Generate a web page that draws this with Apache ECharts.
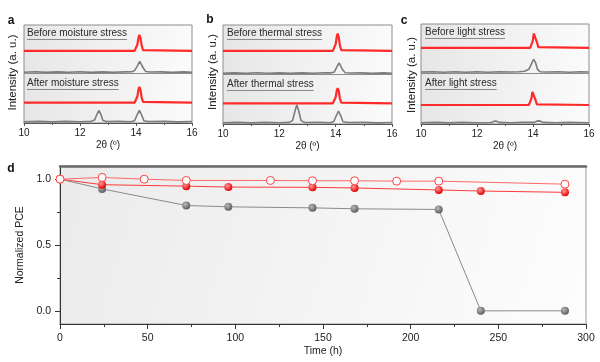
<!DOCTYPE html>
<html>
<head>
<meta charset="utf-8">
<script src="https://cdn.jsdelivr.net/npm/echarts@6/dist/echarts.min.js"></script>
<style>
html,body{margin:0;padding:0;background:#fff;}
#c{width:600px;height:362px;}
</style>
</head>
<body>
<div id="c"></div>
<script>
// ---------------- DATA ----------------
// XRD traces: [2θ (deg), intensity (arb. units)]
const xrdA_beforeRed = [[10,0],[13.95,0],[14.0,0.06],[14.05,0.4],[14.09,0.85],[14.12,1.0],[14.16,0.82],[14.2,0.35],[14.25,0.05],[14.3,0],[16,0]];
const xrdA_beforeGrey = [[10,0.02],[10.4,0.05],[10.8,0.01],[11.2,0.04],[11.6,0.02],[12,0.05],[12.4,0.01],[12.8,0.04],[13.2,0.02],[13.6,0.04],[13.85,0.05],[13.95,0.12],[14.05,0.42],[14.13,0.7],[14.2,0.6],[14.27,0.25],[14.35,0.06],[14.5,0.03],[14.9,0.04],[15.3,0.01],[15.7,0.04],[16,0.02]];
const xrdA_afterRed = [[10,0],[13.95,0],[14.0,0.06],[14.05,0.4],[14.09,0.85],[14.12,0.98],[14.16,0.8],[14.2,0.33],[14.25,0.05],[14.3,0],[16,0]];
const xrdA_afterGrey = [[10,0.02],[10.5,0.04],[11,0.01],[11.5,0.04],[12,0.02],[12.4,0.04],[12.52,0.12],[12.6,0.45],[12.67,0.72],[12.74,0.5],[12.82,0.1],[12.95,0.03],[13.4,0.04],[13.8,0.02],[13.95,0.08],[14.04,0.45],[14.12,0.72],[14.2,0.45],[14.28,0.08],[14.45,0.03],[15,0.04],[15.5,0.01],[16,0.03]];

const xrdB_beforeRed = [[10,0],[13.9,0],[13.95,0.06],[14.0,0.42],[14.04,0.9],[14.07,1.08],[14.11,0.85],[14.15,0.35],[14.2,0.05],[14.25,0],[16,0]];
const xrdB_beforeGrey = [[10,0.02],[10.4,0.04],[10.8,0.01],[11.2,0.05],[11.6,0.02],[12,0.04],[12.4,0.01],[12.8,0.04],[13.2,0.02],[13.6,0.05],[13.85,0.04],[13.95,0.1],[14.04,0.4],[14.12,0.66],[14.19,0.55],[14.26,0.2],[14.34,0.05],[14.5,0.03],[14.9,0.04],[15.3,0.01],[15.7,0.04],[16,0.02]];
const xrdB_afterRed = [[10,0],[13.9,0],[13.95,0.05],[14.0,0.38],[14.04,0.8],[14.07,0.94],[14.11,0.78],[14.15,0.3],[14.2,0.04],[14.25,0],[16,0]];
const xrdB_afterGrey = [[10,0.02],[10.5,0.04],[11,0.01],[11.5,0.04],[12,0.02],[12.35,0.04],[12.47,0.15],[12.55,0.7],[12.62,1.14],[12.69,0.75],[12.77,0.15],[12.9,0.03],[13.4,0.04],[13.8,0.02],[13.93,0.08],[14.02,0.45],[14.1,0.75],[14.18,0.45],[14.26,0.08],[14.45,0.03],[15,0.04],[15.5,0.01],[16,0.03]];

const xrdC_beforeRed = [[10,0],[13.9,0],[13.95,0.06],[13.99,0.42],[14.03,0.9],[14.06,1.02],[14.1,0.85],[14.14,0.35],[14.19,0.05],[14.25,0],[16,0]];
const xrdC_beforeGrey = [[10,0.03],[10.4,0.05],[10.8,0.02],[11.2,0.05],[11.6,0.02],[12,0.05],[12.4,0.02],[12.8,0.05],[13.2,0.03],[13.5,0.05],[13.7,0.08],[13.85,0.2],[13.95,0.55],[14.02,0.83],[14.09,0.62],[14.16,0.2],[14.25,0.05],[14.5,0.03],[14.9,0.05],[15.3,0.02],[15.7,0.05],[16,0.03]];
const xrdC_afterRed = [[10,0],[13.85,0],[13.9,0.05],[13.94,0.38],[13.98,0.82],[14.01,0.94],[14.05,0.78],[14.09,0.3],[14.14,0.04],[14.2,0],[16,0]];
const xrdC_afterGrey = [[10,0.02],[10.5,0.04],[11,0.01],[11.5,0.04],[12,0.02],[12.5,0.03],[12.6,0.1],[12.68,0.13],[12.78,0.04],[13.2,0.02],[13.6,0.04],[14.05,0.04],[14.15,0.12],[14.25,0.13],[14.35,0.04],[14.8,0.02],[15.3,0.04],[16,0.02]];

// PCE stability
const timeOpen = [0,24,48,72,120,144,168,192,216,288];
const pceOpen  = [1.0,1.013,1.0,0.99,0.99,0.988,0.988,0.985,0.985,0.962];
const timeRed  = [0,24,72,96,144,168,216,240,288];
const pceRed   = [1.0,0.958,0.947,0.94,0.938,0.933,0.918,0.91,0.90];
const timeGrey = [0,24,72,96,144,168,216,240,288];
const pceGrey  = [1.0,0.926,0.80,0.79,0.782,0.775,0.77,0.0,0.0];

const xrdTicks = [10,12,14,16];
const pceYTicks = [0.0,0.5,1.0];
const pceXTicks = [0,50,100,150,200,250,300];

const panelLabels = ['a','b','c','d'];
const stressText = [
  ['Before moisture stress','After moisture stress'],
  ['Before thermal stress','After thermal stress'],
  ['Before light stress','After light stress']
];
const xrdNameX = '2θ (º)';
const xrdNameY = 'Intensity (a. u.)';
const pceNameX = 'Time (h)';
const pceNameY = 'Normalized PCE';

// ---------------- LAYOUT ----------------
const FONT = '"Liberation Sans", Arial, sans-serif';
const RED = '#ff2b2b';
const GREY = '#7c7c7c';
const PXU = 16; // px per intensity unit
const panels = [
  {left:24, width:168, top:25, mid:73.5, bottom:123, offT:22.6, offB:20.3, nameX:12.5, nameY:72.5, txtX:27},
  {left:223, width:169, top:25, mid:74.5, bottom:124, offT:23.6, offB:20.7, nameX:213, nameY:72, txtX:227},
  {left:421, width:168, top:24, mid:73.5, bottom:124, offT:25.6, offB:19, nameX:412, nameY:75, txtX:425}
];
const traces = [
  [xrdA_beforeRed, xrdA_beforeGrey, xrdA_afterRed, xrdA_afterGrey],
  [xrdB_beforeRed, xrdB_beforeGrey, xrdB_afterRed, xrdB_afterGrey],
  [xrdC_beforeRed, xrdC_beforeGrey, xrdC_afterRed, xrdC_afterGrey]
];

function bgGrad(x2, y2, c0, c1){
  return {type:'linear', x:0, y:0, x2:x2, y2:y2, colorStops:[{offset:0,color:c0},{offset:1,color:c1}]};
}

const grids=[], xAxes=[], yAxes=[], series=[], graphics=[];

const mctx = document.createElement('canvas').getContext('2d');
function textW(t, size){ mctx.font = size+'px "Liberation Sans", Arial'; return mctx.measureText(t).width; }

panels.forEach((p, pi) => {
  const subs = [
    {top:p.top, h:p.mid - p.top, off:p.offT, bottom:false},
    {top:p.mid, h:p.bottom - p.mid, off:p.offB, bottom:true}
  ];
  subs.forEach((s, si) => {
    const gi = grids.length;
    grids.push({left:p.left, top:s.top, width:p.width, height:s.h, show:true,
      backgroundColor: bgGrad(1,0.3,'#e6e6e6','#fbfbfb'), borderColor:'#8c8c8c', borderWidth:1});
    xAxes.push({type:'value', gridIndex:gi, min:10, max:16, interval:2, position:'bottom',
      axisLine:{show:s.bottom, onZero:false, lineStyle:{color:'#555', width:1}},
      axisTick:{show:s.bottom, length:3, lineStyle:{color:'#555'}},
      minorTick:{show:s.bottom, splitNumber:2, length:2, lineStyle:{color:'#555'}},
      splitLine:{show:false},
      axisLabel:{show:s.bottom, fontSize:10, color:'#222', fontFamily:FONT, margin:5,
        customValues: xrdTicks},
      name: s.bottom ? xrdNameX : '', nameLocation:'middle', nameGap:17,
      nameTextStyle:{fontSize:10, color:'#222', fontFamily:FONT}});
    const yr = yAxes.length;
    yAxes.push({type:'value', gridIndex:gi, min:-s.off/PXU, max:(s.h - s.off)/PXU, show:false});
    const yg = yAxes.length;
    yAxes.push({type:'value', gridIndex:gi, min:-1/PXU, max:(s.h - 1)/PXU, show:false});
    const tr = traces[pi];
    series.push({type:'line', xAxisIndex:gi, yAxisIndex:yr, data:tr[si*2], showSymbol:false,
      lineStyle:{color:RED, width:2.2}, silent:true, animation:false, z:3});
    series.push({type:'line', xAxisIndex:gi, yAxisIndex:yg, data:tr[si*2+1], showSymbol:false,
      lineStyle:{color:GREY, width:1.6}, silent:true, animation:false, z:3});
    const t = stressText[pi][si];
    const ty = s.top + (si===0 ? 9 : 10.5);
    graphics.push({type:'text', left:p.txtX, top:ty - 6, z:10,
      style:{text:t, fontSize:10, fontFamily:FONT, fill:'#2a2a2a'}});
    graphics.push({type:'rect', shape:{x:p.txtX, y:ty + 5, width:textW(t,10), height:1}, z:10,
      style:{fill:'#8a8a8a'}});
  });
  graphics.push({type:'text', x:p.nameX, y:p.nameY, rotation:Math.PI/2, z:10,
    style:{text:xrdNameY, fontSize:11.5, fontFamily:FONT, fill:'#222', align:'center', verticalAlign:'middle'}});
});

// panel d
const gd = grids.length;
grids.push({left:60, top:166, width:526, height:158, show:true,
  backgroundColor: bgGrad(1,1,'#ebebeb','#fdfdfd'), borderColor:'#9a9a9a', borderWidth:1});
const xd = xAxes.length;
xAxes.push({type:'value', gridIndex:gd, min:0, max:300, interval:50, position:'bottom',
  axisLine:{onZero:false, lineStyle:{color:'#333', width:1}},
  axisTick:{length:5, lineStyle:{color:'#333'}},
  minorTick:{show:true, splitNumber:2, length:3, lineStyle:{color:'#333'}},
  splitLine:{show:false},
  axisLabel:{fontSize:10.5, color:'#222', fontFamily:FONT, margin:9, customValues: pceXTicks},
  name:pceNameX, nameLocation:'middle', nameGap:22,
  nameTextStyle:{fontSize:10.5, color:'#222', fontFamily:FONT}});
xAxes.push({type:'value', gridIndex:gd, min:0, max:300, position:'top',
  axisLine:{show:true, onZero:false, lineStyle:{color:'#6a6a6a', width:2.5}},
  axisTick:{show:false}, axisLabel:{show:false}, splitLine:{show:false}});
const yd = yAxes.length;
yAxes.push({type:'value', gridIndex:gd, min:-0.1, max:1.1, position:'left',
  axisLine:{show:true, onZero:false, lineStyle:{color:'#333', width:1}},
  axisTick:{show:true, length:5, customValues: pceYTicks, lineStyle:{color:'#333'}},
  splitLine:{show:false},
  axisLabel:{fontSize:10.5, color:'#222', fontFamily:FONT, margin:9, customValues: pceYTicks,
    formatter: v => v.toFixed(1)},
  name:pceNameY, nameLocation:'middle', nameGap:32,
  nameTextStyle:{fontSize:10.5, color:'#222', fontFamily:FONT}});
yAxes.push({type:'value', gridIndex:gd, min:-0.1, max:1.1, position:'left',
  axisLine:{show:false, onZero:false},
  axisTick:{show:true, length:3, customValues:[0.25,0.75], lineStyle:{color:'#333'}},
  axisLabel:{show:false}, splitLine:{show:false}});

function sphere(c0, c1){
  return {type:'radial', x:0.38, y:0.35, r:0.65, colorStops:[{offset:0,color:c0},{offset:1,color:c1}]};
}
const zip = (a,b) => a.map((v,i)=>[v,b[i]]);
series.push({type:'line', xAxisIndex:xd, yAxisIndex:yd, data:zip(timeGrey,pceGrey),
  symbol:'circle', symbolSize:8, lineStyle:{color:'#8a8a8a', width:1},
  itemStyle:{color:sphere('#b8b8b8','#5e5e5e'), borderWidth:0}, animation:false, z:4});
series.push({type:'line', xAxisIndex:xd, yAxisIndex:yd, data:zip(timeRed,pceRed),
  symbol:'circle', symbolSize:8, lineStyle:{color:'#ff3a3a', width:1},
  itemStyle:{color:sphere('#ff9a9a','#e80000'), borderWidth:0}, animation:false, z:5});
series.push({type:'line', xAxisIndex:xd, yAxisIndex:yd, data:zip(timeOpen,pceOpen),
  symbol:'circle', symbolSize:8, lineStyle:{color:'#ff6a6a', width:1},
  itemStyle:{color:'#ffffff', borderColor:'#ff4040', borderWidth:1}, animation:false, z:6});

const letterPos = [[11,21],[210,20],[404,21],[11,169]];
panelLabels.forEach((l,i)=>{
  graphics.push({type:'text', x:letterPos[i][0], y:letterPos[i][1], z:10,
    style:{text:l, fontSize:12, fontWeight:'bold', fontFamily:FONT, fill:'#111', align:'center', verticalAlign:'middle'}});
});

const chart = echarts.init(document.getElementById('c'), null, {renderer:'canvas'});
chart.setOption({
  animation:false,
  backgroundColor:'#ffffff',
  grid:grids, xAxis:xAxes, yAxis:yAxes, series:series, graphic:graphics
});
</script>
</body>
</html>
